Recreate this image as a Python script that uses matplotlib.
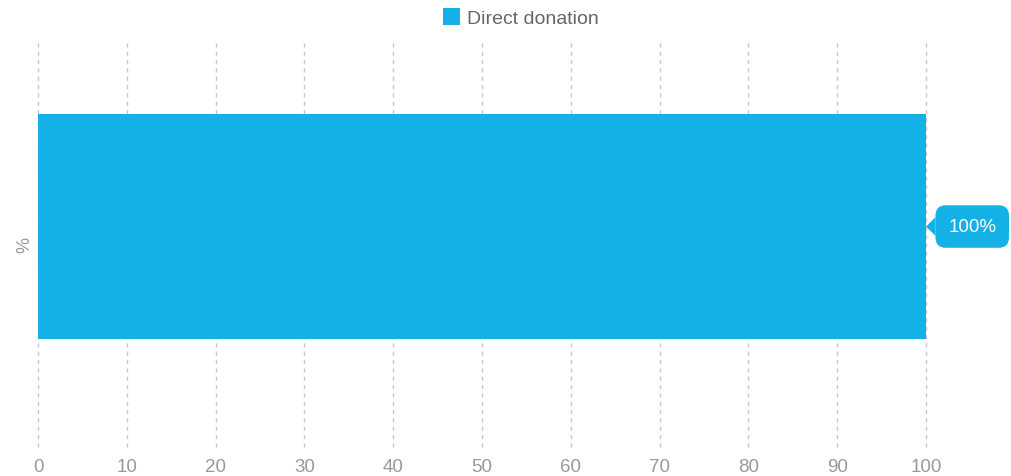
import numpy as np
import matplotlib
matplotlib.use("Agg")
import matplotlib.pyplot as plt

# data
categories = ['%']
series_name = 'Direct donation'
values = [100]
x_ticks = list(range(0, 101, 10))

BLUE = '#14B1E7'
GRAY = '#999999'

plt.rcParams['font.family'] = ['Liberation Sans', 'DejaVu Sans']

fig = plt.figure(figsize=(10.11, 4.77), dpi=100)
ax = fig.add_axes([38 / 1011, 1 - 448 / 477, 888 / 1011, 406 / 477])

y = np.arange(len(categories))
ax.barh(y, values, height=0.554, color=BLUE, label=series_name, zorder=3)

ax.set_xlim(0, 100)
ax.set_ylim(-0.543, 0.457)
ax.set_xticks(x_ticks)
ax.set_yticks([])
ax.set_ylabel(categories[0], color=GRAY, fontsize=13, labelpad=3)

ax.grid(axis='x', color='#c8c8c8', linestyle=(0, (3, 3)), linewidth=1, zorder=1)
for gl in ax.get_xgridlines():
    gl.set_clip_on(False)
ax.set_axisbelow(True)
for s in ax.spines.values():
    s.set_visible(False)
ax.tick_params(axis='x', length=0, colors=GRAY, labelsize=13.5, pad=8)

# callout label
for yi, v in zip(y, values):
    ax.annotate(f'{v}%', xy=(v, yi), xytext=(16, 0), textcoords='offset points',
                ha='left', va='center', color='white', fontsize=13.5,
                bbox=dict(boxstyle='round,pad=0.68,rounding_size=0.55', fc=BLUE, ec='none'),
                arrowprops=dict(arrowstyle='wedge,tail_width=1.0', fc=BLUE, ec='none',
                                shrinkA=0, shrinkB=0),
                annotation_clip=False, zorder=5)

leg = fig.legend(loc='upper center', bbox_to_anchor=(0.515, 1.017), frameon=False,
                 handlelength=0.9, handleheight=0.9, fontsize=14, handletextpad=0.35)
for t in leg.get_texts():
    t.set_color('#666666')

fig.savefig('out.png', dpi=100)
